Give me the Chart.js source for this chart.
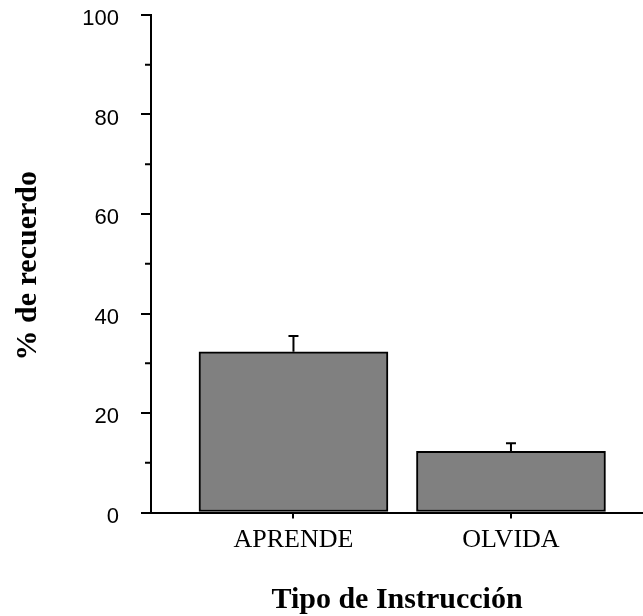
<!DOCTYPE html>
<html>
<head>
<meta charset="utf-8">
<script src="https://cdn.jsdelivr.net/npm/chart.js@4.4.0/dist/chart.umd.min.js"></script>
<style>
  html, body { margin: 0; padding: 0; background: #fff; }
  #wrap { width: 643px; height: 616px; }
</style>
</head>
<body>
<div id="wrap"><canvas id="chart"></canvas></div>
<script>
const categories = ['APRENDE', 'OLVIDA'];
const positions = [1, 2];
const recall = [32.3, 12.3];
const recallErr = [3.2, 1.6];
const yTicks = [0, 20, 40, 60, 80, 100];
const yMinorTicks = [10, 30, 50, 70, 90];
const xTitle = 'Tipo de Instrucción';
const yTitle = '% de recuerdo';

// small error bars on top of each bar (only the upper half, like the original)
const errorBars = {
  id: 'errorBars',
  afterDatasetsDraw(chart) {
    const ctx = chart.ctx;
    const y = chart.scales.y;
    const meta = chart.getDatasetMeta(0);
    ctx.save();
    ctx.strokeStyle = '#000';
    ctx.lineWidth = 2;
    meta.data.forEach((bar, i) => {
      const top = y.getPixelForValue(recall[i] + recallErr[i]);
      ctx.beginPath();
      ctx.moveTo(bar.x, bar.y);
      ctx.lineTo(bar.x, top);
      ctx.moveTo(bar.x - 5, top);
      ctx.lineTo(bar.x + 5, top);
      ctx.stroke();
    });
    ctx.restore();
  }
};

// minor ticks on y axis + axis titles
const extras = {
  id: 'extras',
  afterDraw(chart) {
    const ctx = chart.ctx;
    const area = chart.chartArea;
    const y = chart.scales.y;
    ctx.save();
    ctx.strokeStyle = '#000';
    ctx.lineWidth = 2;
    yMinorTicks.forEach(v => {
      const py = y.getPixelForValue(v);
      ctx.beginPath();
      ctx.moveTo(area.left - 6, py);
      ctx.lineTo(area.left, py);
      ctx.stroke();
    });

    ctx.fillStyle = '#000';
    ctx.font = 'bold 30px "Liberation Serif", "Times New Roman", serif';
    ctx.textAlign = 'center';
    ctx.textBaseline = 'alphabetic';
    ctx.fillText(xTitle, (area.left + area.right) / 2, area.bottom + 95);

    ctx.translate(area.left - 115, (area.top + area.bottom) / 2 + 2);
    ctx.rotate(-Math.PI / 2);
    ctx.fillText(yTitle, 0, 0);
    ctx.restore();
  }
};

new Chart(document.getElementById('chart'), {
  type: 'bar',
  data: {
    datasets: [{
      data: positions.map((p, i) => ({ x: p, y: recall[i] })),
      backgroundColor: '#808080',
      borderColor: '#000',
      borderWidth: 2,
      borderSkipped: false,
      barThickness: 189
    }]
  },
  options: {
    responsive: true,
    maintainAspectRatio: false,
    animation: false,
    layout: { padding: { top: 15, right: 0, left: 0, bottom: 0 } },
    plugins: {
      legend: { display: false },
      tooltip: { enabled: false }
    },
    scales: {
      x: {
        type: 'linear',
        min: 0.345,
        max: 2.607,
        offset: false,
        afterBuildTicks: axis => { axis.ticks = positions.map(v => ({ value: v })); },
        afterFit: axis => {
          axis.height = 103.5;
          axis.paddingLeft = 0;
          axis.paddingRight = 0;
        },
        grid: { drawOnChartArea: false, offset: false, tickLength: 6, color: '#000', lineWidth: 2 },
        border: { color: '#000', width: 2 },
        ticks: {
          color: '#000',
          padding: 6,
          maxRotation: 0,
          font: { family: '"Liberation Serif", "Times New Roman", serif', size: 26 },
          callback: v => categories[positions.indexOf(v)]
        }
      },
      y: {
        min: 0,
        max: 100,
        afterBuildTicks: axis => { axis.ticks = yTicks.map(v => ({ value: v })); },
        afterFit: axis => {
          axis.width = 151;
          axis.paddingTop = 0;
          axis.paddingBottom = 0;
        },
        grid: { drawOnChartArea: false, tickLength: 10, color: '#000', lineWidth: 2 },
        border: { color: '#000', width: 2 },
        ticks: {
          color: '#000',
          padding: 22,
          labelOffset: 4,
          font: { family: '"Liberation Sans", Arial, sans-serif', size: 22 }
        }
      }
    }
  },
  plugins: [errorBars, extras]
});
</script>
</body>
</html>
